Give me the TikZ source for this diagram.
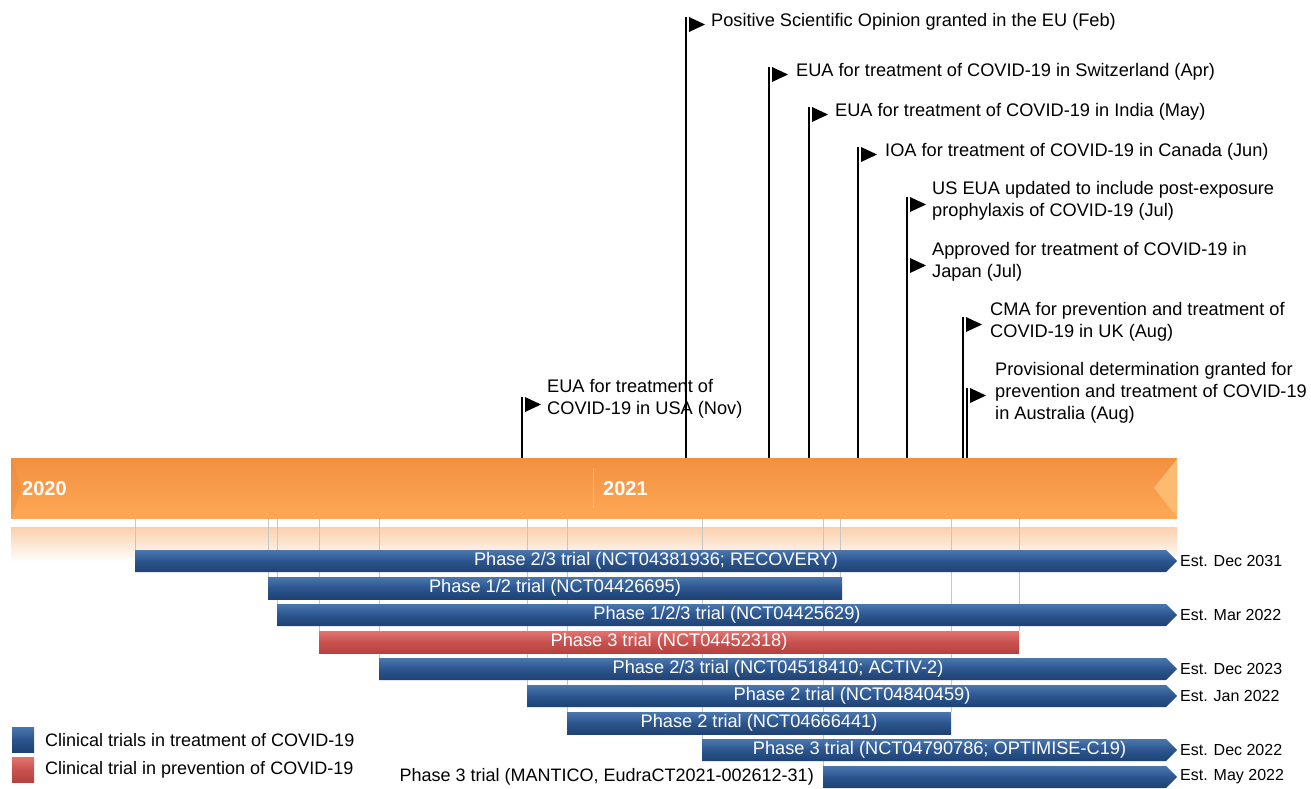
\documentclass[tikz,border=0pt]{standalone}
\usepackage{fontspec}
\setmainfont{Liberation Sans}
\definecolor{blueT}{HTML}{4A76AE}
\definecolor{blueM}{HTML}{2C558E}
\definecolor{blueB}{HTML}{1E4273}
\definecolor{redT}{HTML}{E3736F}
\definecolor{redM}{HTML}{C9524F}
\definecolor{redB}{HTML}{B4423F}
\definecolor{orT}{HTML}{F39040}
\definecolor{orB}{HTML}{FDA856}
\definecolor{orLight}{HTML}{FDBB72}
\definecolor{orDark}{HTML}{EC8634}
\definecolor{fadeTop}{HTML}{FAD0AC}
\definecolor{gridgray}{HTML}{C6C6C6}
\tikzset{
  bluebar/.style={top color=blueT, bottom color=blueB, middle color=blueM},
  redbar/.style={top color=redT, bottom color=redB, middle color=redM},
  barlabel/.style={text=white, inner sep=0pt, font=\fontsize{18.2}{21}\selectfont},
  estlabel/.style={anchor=west, inner sep=0pt, font=\fontsize{16}{19}\selectfont},
  flaglabel/.style={anchor=west, align=left, inner sep=0pt, font=\fontsize{18.2}{22}\selectfont},
  legendlabel/.style={anchor=west, inner sep=0pt, font=\fontsize{18}{21}\selectfont},
  yearlabel/.style={anchor=west, inner sep=0pt, text=white, font=\bfseries\fontsize{20}{24}\selectfont},
  pole/.style={line width=1.6pt, black},
  flagtri/.style={fill=black},
  gridline/.style={gridgray, line width=0.9pt}
}
% arrow bar: #1 node name, #2 x start, #3 y top, #4 style, #5 label
\newcommand{\arrowbar}[5]{%
  \path[#4] (#2,#3) -- (1166,#3) -- (1177,#3+11) -- (1166,#3+22) -- (#2,#3+22) -- cycle;
  \node[barlabel] (#1) at ({(#2+1177)/2},#3+11) {#5};}
% plain bar: #1 node name, #2 x start, #3 x end, #4 y top, #5 style, #6 label
\newcommand{\plainbar}[6]{%
  \path[#5] (#2,#4) rectangle (#3,#4+22);
  \node[barlabel] (#1) at ({(#2+#3)/2},#4+11) {#6};}
% flag: #1 pole x, #2 flag top y
\newcommand{\flagmark}[2]{%
  \path[flagtri] (#1+3,#2) -- (#1+19,#2+7.5) -- (#1+3,#2+15) -- cycle;}
\begin{document}
\begin{tikzpicture}[x=1pt,y=-1pt]
\useasboundingbox (0,0) rectangle (1311,788);

% fade band below the timeline
\fill[top color=fadeTop, bottom color=white] (11,527) rectangle (1177,562);

% grid lines from the timeline to bar starts/ends
\foreach \gx/\gy in {135/550,268/577,277/604,319/631,379/658,527/685,567/712,702/739,823/766,840/577,951/712,1019/631}
  \draw[gridline] (\gx,518) -- (\gx,\gy);

% timeline bar
\fill[top color=orT, bottom color=orB] (11,458) rectangle (1177,518);
\fill[orDark, opacity=0.35] (11,458) -- (22,488) -- (11,518) -- cycle;
\fill[orLight] (1177,459) -- (1154,488) -- (1177,517) -- cycle;
\draw[orLight, line width=1pt] (593,468) -- (593,508);
\node[yearlabel] (y2020) at (22,489) {2020};
\node[yearlabel] (y2021) at (603,489) {2021};

% trial bars
\arrowbar{t1}{135}{550}{bluebar}{Phase 2/3 trial (NCT04381936; RECOVERY)}
\plainbar{t2}{268}{842}{577}{bluebar}{Phase 1/2 trial (NCT04426695)}
\arrowbar{t3}{277}{604}{bluebar}{Phase 1/2/3 trial (NCT04425629)}
\plainbar{t4}{319}{1019}{631}{redbar}{Phase 3 trial (NCT04452318)}
\arrowbar{t5}{379}{658}{bluebar}{Phase 2/3 trial (NCT04518410; ACTIV-2)}
\arrowbar{t6}{527}{685}{bluebar}{Phase 2 trial (NCT04840459)}
\plainbar{t7}{567}{951}{712}{bluebar}{Phase 2 trial (NCT04666441)}
\arrowbar{t8}{702}{739}{bluebar}{Phase 3 trial (NCT04790786; OPTIMISE-C19)}
\path[bluebar] (823,766) -- (1166,766) -- (1177,777) -- (1166,788) -- (823,788) -- cycle;
\node[anchor=east, inner sep=0pt, font=\fontsize{18}{21}\selectfont] (t9) at (814,777) {Phase 3 trial (MANTICO, EudraCT2021-002612-31)};

% end estimates
\node[estlabel] (e1) at (1180,561) {Est. Dec 2031};
\node[estlabel] (e3) at (1180,615) {Est. Mar 2022};
\node[estlabel] (e5) at (1180,669) {Est. Dec 2023};
\node[estlabel] (e6) at (1180,696) {Est. Jan 2022};
\node[estlabel] (e8) at (1180,750) {Est. Dec 2022};
\node[estlabel] (e9) at (1180,777) {Est. May 2022};

% legend
\fill[bluebar] (12,727) rectangle (34,752);
\fill[redbar] (12,757) rectangle (34,782);
\node[legendlabel] (lg1) at (45,740) {Clinical trials in treatment of COVID-19};
\node[legendlabel] (lg2) at (45,770) {Clinical trial in prevention of COVID-19};

% flag poles
\foreach \px/\pt in {522/397,686/17,769/67,809/107,858/147,907/197,963/317,967/388}
  \draw[pole] (\px,\pt) -- (\px,458);

% flags
\flagmark{522}{397}
\flagmark{686}{17}
\flagmark{769}{67}
\flagmark{809}{107}
\flagmark{858}{147}
\flagmark{907}{197}
\flagmark{907}{258}
\flagmark{963}{317}
\flagmark{967}{388}

% flag labels
\node[flaglabel] (fUSA) at (547,399) {EUA for treatment of\\COVID-19 in USA (Nov)};
\node[flaglabel] (fEU) at (711,22) {Positive Scientific Opinion granted in the EU (Feb)};
\node[flaglabel] (fCH) at (796,72) {EUA for treatment of COVID-19 in Switzerland (Apr)};
\node[flaglabel] (fIN) at (835,112) {EUA for treatment of COVID-19 in India (May)};
\node[flaglabel] (fCA) at (885,152) {IOA for treatment of COVID-19 in Canada (Jun)};
\node[flaglabel] (fUS) at (932,201) {US EUA updated to include post-exposure\\prophylaxis of COVID-19 (Jul)};
\node[flaglabel] (fJP) at (932,262) {Approved for treatment of COVID-19 in\\Japan (Jul)};
\node[flaglabel] (fUK) at (990,322) {CMA for prevention and treatment of\\COVID-19 in UK (Aug)};
\node[flaglabel] (fAU) at (995,393) {Provisional determination granted for\\prevention and treatment of COVID-19\\in Australia (Aug)};
\end{tikzpicture}
\end{document}
